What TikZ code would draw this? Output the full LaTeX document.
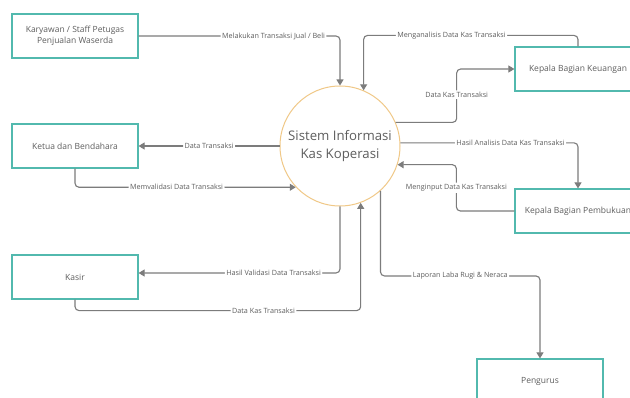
\documentclass[tikz,border=0pt]{standalone}
\usepackage{fontspec}
\setmainfont{Open Sans}
\usetikzlibrary{arrows.meta,calc}
\definecolor{boxc}{HTML}{52B9AE}
\definecolor{circc}{HTML}{F0C887}
\definecolor{linec}{HTML}{7C7C7C}
\definecolor{txtc}{HTML}{5E5E5E}
\tikzset{
  ent/.style={draw=boxc, line width=1.2pt, fill=white, minimum width=126pt, minimum height=44pt,
    inner sep=0pt, align=center, text=txtc, font=\fontsize{8.5}{11.5}\selectfont},
  proc/.style={circle, draw=circc, line width=1pt, minimum size=120pt, inner sep=0pt,
    align=center, text=txtc, font=\fontsize{13.2}{18.5}\selectfont},
  conn/.style={draw=linec, line width=1.1pt, rounded corners=4pt,
    -{Triangle[width=7pt,length=6pt]}},
  lbl/.style={fill=white, inner sep=1.5pt, text=txtc, font=\fontsize{7.2}{9}\selectfont}
}
\begin{document}
\begin{tikzpicture}[x=1pt,y=-1pt]
\useasboundingbox (0,0) rectangle (630,398);
\clip (0,0) rectangle (630,398);
\fill[white] (0,0) rectangle (630,398);
\node[proc] (sys) at (340,146) {Sistem Informasi\\Kas Koperasi};
\node[ent] (kar) at (75,36) {Karyawan / Staff Petugas\\Penjualan Waserda};
\node[ent] (ket) at (75,146) {Ketua dan Bendahara};
\node[ent] (kas) at (75,277) {Kasir};
\node[ent] (keu) at (578,69) {Kepala Bagian Keuangan};
\node[ent] (pem) at (578,211) {Kepala Bagian Pembukuan};
\node[ent] (pen) at (540,381) {Pengurus};

\draw[conn] (kar.east) -| node[lbl,pos=0.335]{Melakukan Transaksi Jual / Beli} (sys.north);
\draw[conn] (keu.north) -- ++(0,-11) -| node[lbl,pos=0.295]{Menganalisis Data Kas Transaksi} (sys.67.5);
\draw[conn] (sys.23.6) -- ++(61,0) |- node[lbl,pos=0.26]{Data Kas Transaksi} (keu.west);
\draw[conn] (sys.west) -- node[lbl,pos=0.5]{Data Transaksi} (ket.east);
\draw[conn] (ket.south) |- node[lbl,pos=0.73]{Memvalidasi Data Transaksi} (sys.223.1);
\draw[conn] (sys.3) -| node[lbl,pos=0.31]{Hasil Analisis Data Kas Transaksi} (pem.north);
\draw[conn] (pem.west) -- ++(-58,0) |- node[lbl,pos=0.25]{Menginput Data Kas Transaksi} (sys.-18.5);
\draw[conn] (sys.south) |- node[lbl,pos=0.665]{Hasil Validasi Data Transaksi} ([yshift=4pt]kas.east);
\draw[conn] (kas.south) -- ++(0,11) -| node[lbl,pos=0.33]{Data Kas Transaksi} (sys.-70.5);
\draw[conn] (sys.-48.2) -- ++(0,85) -| node[lbl,pos=0.25]{Laporan Laba Rugi \& Neraca} (pen.north);
\end{tikzpicture}
\end{document}
